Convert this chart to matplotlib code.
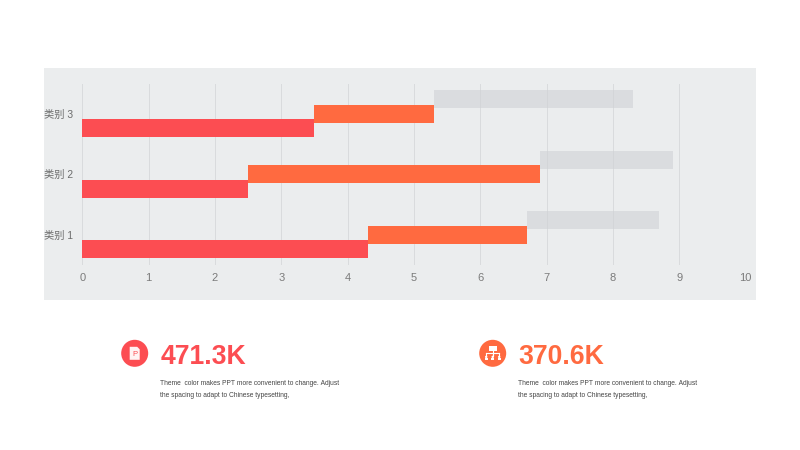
#!/usr/bin/env python3
import matplotlib
matplotlib.use('Agg')
import matplotlib.pyplot as plt
from matplotlib.patches import Circle, Rectangle, Polygon

plt.rcParams['font.family'] = ['Liberation Sans', 'Noto Sans CJK SC', 'DejaVu Sans']
plt.rcParams['text.kerning_factor'] = 6

# chart data
categories = ['类别 1', '类别 2', '类别 3']
series1 = [4.3, 2.5, 3.5]
series2 = [2.4, 4.4, 1.8]
series3 = [2.0, 2.0, 3.0]
xticks = [0, 1, 2, 3, 4, 5, 6, 7, 8, 9, 10]

# text under the chart
kpi_values = ['471.3K', '370.6K']
kpi_lines = ['Theme  color makes PPT more convenient to change. Adjust',
             'the spacing to adapt to Chinese typesetting,']

red = '#fc4d52'
orange = '#ff6a40'
W, H = 800, 450

fig = plt.figure(figsize=(8, 4.5), dpi=100, facecolor='white')

# whole figure in pixel coords, for the panel, icons and text
bg = fig.add_axes([0, 0, 1, 1])
bg.set_xlim(0, W)
bg.set_ylim(H, 0)
bg.axis('off')
bg.add_patch(Rectangle((43.5, 67.5), 712, 232.5, fc='#ebedee', ec='none'))

# bar chart
left, right, top, bottom = 82.3, 745.7, 83.5, 265
ax = fig.add_axes([left / W, 1 - bottom / H, (right - left) / W, (bottom - top) / H])
ax.patch.set_alpha(0)
ys = list(range(len(categories)))
h = 0.29
off = 0.24
left2 = [a for a in series1]
left3 = [a + b for a, b in zip(series1, series2)]
ax.barh([y - off for y in ys], series1, height=h, color=red, zorder=3)
ax.barh(ys, series2, left=left2, height=h, color=orange, zorder=3)
ax.barh([y + off for y in ys], series3, left=left3, height=h, color='#cfd2d5', alpha=0.6, zorder=3)

ax.set_xlim(0, 10)
ax.set_ylim(-0.5, 2.5)
ax.set_xticks(xticks)
ax.set_yticks(ys)
ax.set_yticklabels(categories)
ax.tick_params(axis='x', length=0, pad=5.5, labelsize=8, labelcolor='#7b7b7b')
ax.tick_params(axis='y', length=0, pad=6.5, labelsize=7.4, labelcolor='#6b6b6b')
ax.grid(axis='x', color='#d9dbdd', lw=0.7, zorder=1)
ax.set_axisbelow(True)
for s in ax.spines.values():
    s.set_visible(False)

# kpi blocks
cols = [red, orange]
icon_x = [134.7, 492.7]
text_x = [160.5, 518.0]
for i in range(2):
    bg.add_patch(Circle((icon_x[i], 353.3), 13.5, fc=cols[i], ec='none'))
    bg.text(text_x[i], 364, kpi_values[i], color=cols[i], fontsize=19.2, fontweight='bold',
            ha='left', va='baseline')
    bg.text(text_x[i], 383.5, kpi_lines[0], color='#444444', fontsize=4.78, ha='left', va='center')
    bg.text(text_x[i], 395.5, kpi_lines[1], color='#444444', fontsize=4.78, ha='left', va='center')

# page icon
cx, cy = icon_x[0], 353.3
bg.add_patch(Polygon([(cx - 5, cy - 6.5), (cx + 2.5, cy - 6.5), (cx + 5, cy - 4), (cx + 5, cy + 6.5), (cx - 5, cy + 6.5)],
                     closed=True, fc='#fff3f3', ec='none'))
bg.text(cx, cy + 1, 'P', color=red, fontsize=5.5, ha='center', va='center')

# org chart icon
cx = icon_x[1]
bg.add_patch(Rectangle((cx - 4, cy - 7), 8, 5, fc='white', ec='none'))
bg.plot([cx, cx], [cy - 2, cy + 2], color='white', lw=0.8)
bg.plot([cx - 6.5, cx + 6.5], [cy, cy], color='white', lw=0.8)
for dx in [-6.5, 0, 6.5]:
    bg.plot([cx + dx, cx + dx], [cy, cy + 3], color='white', lw=0.8)
    bg.add_patch(Circle((cx + dx, cy + 3.6), 1.2, fc='white', ec='none'))
    bg.add_patch(Rectangle((cx + dx - 1.7, cy + 4.8), 3.4, 1.5, fc='white', ec='none'))

fig.savefig('out.png', dpi=100)
